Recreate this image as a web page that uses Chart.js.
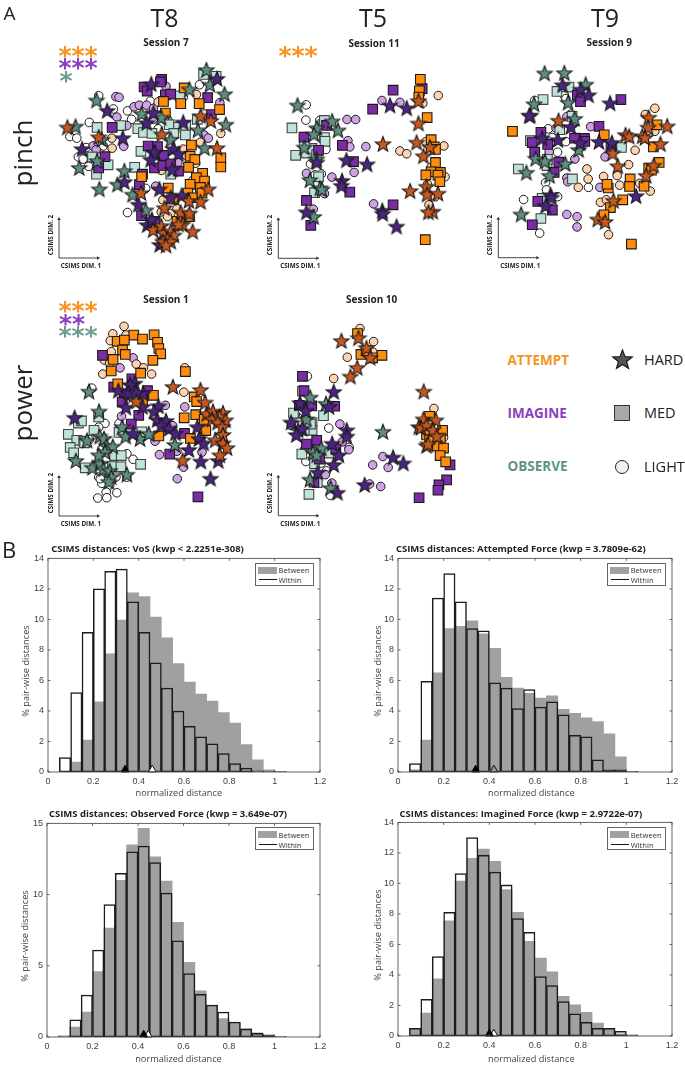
<!DOCTYPE html>
<html>
<head>
<meta charset="utf-8">
<title>CSIMS</title>
<script src="https://cdn.jsdelivr.net/npm/chart.js@4"></script>
<style>
  html, body { margin: 0; padding: 0; background: #fff; }
  #page { position: relative; width: 685px; height: 1065px; overflow: hidden; font-family: "Open Sans", sans-serif; color: #222; }
  #page canvas { position: absolute; }
  #arrows { position: absolute; left: 0; top: 0; }
  .txt { position: absolute; white-space: nowrap; transform: translate(-50%, -50%); line-height: 1; }
  .legbox { position: absolute; width: 59px; height: 23px; background: #fff; border: 1px solid #666; box-sizing: border-box; }
</style>
</head>
<body>
<div id="page"><svg id="arrows" width="685" height="1065"></svg></div>
<script>
// session 7 (T8, pinch)
const s7AttemptHard = [[190,381],[290,412],[491,403],[648,360],[615,345],[668,447],[640,578],[425,590],[578,615],[615,618],[500,638],[552,652],[580,655],[558,690],[590,713],[464,708],[490,695],[498,718],[520,712],[510,735],[530,725],[495,745],[520,745],[545,690],[505,757]];
const s7AttemptMed = [[563,255],[497,298],[552,305],[611,305],[676,324],[503,335],[586,437],[582,473],[597,483],[680,478],[680,507],[577,508],[622,527],[427,538],[602,541],[628,552],[582,562],[615,572],[575,590],[512,574],[530,609],[590,605],[620,590],[540,680],[580,665]];
const s7AttemptLight = [[602,276],[480,300],[627,338],[680,400],[332,415],[333,447],[615,428],[560,450],[490,518],[600,495],[495,612],[490,650],[520,655],[540,640],[510,665],[590,550],[570,470]];
const s7ImagineHard = [[668,226],[458,243],[317,328],[465,335],[443,367],[560,365],[367,415],[237,450],[528,450],[466,462],[545,465],[456,484],[525,515],[372,555],[484,578],[555,598],[417,627],[520,605],[445,692],[460,675],[485,755],[500,740]];
const s7ImagineMed = [[491,228],[487,236],[435,252],[445,265],[503,277],[520,275],[638,286],[333,381],[650,340],[448,440],[478,442],[497,470],[310,474],[290,510],[468,510],[495,502],[520,497],[545,520],[430,530],[420,563],[427,662],[470,680]];
const s7ImagineLight = [[345,283],[355,285],[403,315],[420,310],[443,310],[465,320],[348,348],[380,375],[465,355],[370,441],[272,440],[282,452],[677,302],[627,405],[640,415],[543,493],[505,250],[472,568],[500,355],[520,600]];
const s7ObserveHard = [[634,198],[645,245],[692,275],[283,295],[216,378],[696,372],[607,390],[628,447],[427,338],[300,420],[285,488],[228,510],[372,520],[350,563],[292,578],[398,595],[440,645],[580,260],[520,420],[490,350],[470,460]];
const s7ObserveMed = [[625,212],[665,218],[285,381],[360,375],[415,385],[433,397],[515,372],[545,380],[568,375],[567,405],[605,355],[425,457],[320,500],[405,508],[283,530],[520,530],[270,475],[550,280],[460,400],[530,400]];
const s7ObserveLight = [[290,280],[337,322],[382,328],[260,365],[198,410],[220,415],[225,475],[240,482],[258,505],[272,480],[455,297],[395,355],[560,285],[612,245],[382,652],[480,385],[510,355],[440,575],[305,440],[295,465],[250,445]];

// session 11 (T5, pinch)
const s11AttemptHard = [[519,203],[519,275],[404,341],[513,336],[556,351],[535,380],[545,478],[492,492],[547,503],[582,500],[565,558],[551,560]];
const s11AttemptMed = [[525,133],[522,170],[547,256],[560,327],[570,350],[574,358],[574,400],[560,430],[543,440],[590,432],[582,441],[588,462],[541,648],[520,190]];
const s11AttemptLight = [[583,185],[533,210],[459,363],[481,372],[601,347],[543,333],[605,446],[548,470],[573,510],[553,536],[560,415]];
const s11ImagineHard = [[427,217],[481,226],[286,393],[353,406],[190,400],[272,459],[270,475],[157,560],[402,555],[403,565],[448,606]];
const s11ImagineMed = [[437,168],[531,163],[371,229],[222,281],[149,319],[273,345],[196,361],[309,397],[297,495],[157,522],[437,536],[171,602]];
const s11ImagineLight = [[401,201],[459,207],[288,262],[316,262],[291,330],[297,350],[349,349],[311,432],[239,447],[157,435],[215,500],[179,550],[374,533]];
const s11ObserveHard = [[128,217],[240,268],[259,297],[190,290],[181,310],[150,352],[168,457],[200,483],[207,487],[180,575],[190,390]];
const s11ObserveMed = [[110,289],[215,265],[215,320],[217,332],[122,377],[157,370],[175,355],[190,375],[196,446],[183,497],[150,340]];
const s11ObserveLight = [[156,215],[155,264],[200,265],[220,358],[170,405],[205,437],[208,270],[185,440]];

// session 9 (T9, pinch)
const s9AttemptHard = [[261,266],[553,256],[551,288],[613,284],[478,312],[490,317],[532,316],[541,321],[591,341],[436,371],[453,412],[569,410],[545,443],[439,523],[388,583],[412,591]];
const s9AttemptMed = [[112,300],[580,279],[409,311],[568,350],[587,400],[553,418],[562,425],[493,453],[491,477],[422,482],[418,470],[538,476],[469,520],[429,545],[408,568],[497,662]];
const s9AttemptLight = [[573,226],[542,246],[573,300],[509,361],[454,354],[488,407],[353,421],[357,453],[407,445],[451,442],[325,480],[459,473],[524,467],[558,492],[397,528],[423,632],[416,520]];
const s9ImagineHard = [[274,152],[333,166],[358,184],[428,210],[166,250],[301,286],[208,323],[259,328],[392,334],[434,337],[331,338],[512,508],[235,505],[238,513],[219,540]];
const s9ImagineMed = [[322,184],[332,205],[463,198],[392,284],[204,303],[176,336],[226,342],[313,322],[345,323],[346,332],[431,350],[184,367],[262,399],[247,432],[194,525],[241,553],[176,600]];
const s9ImagineLight = [[288,253],[253,290],[365,285],[231,366],[314,389],[412,382],[288,450],[291,462],[395,480],[288,567],[321,574],[321,607]];
const s9ObserveHard = [[216,114],[280,113],[349,150],[182,213],[170,250],[292,208],[313,260],[326,360],[187,388],[217,397],[283,405],[157,433],[232,443],[140,567]];
const s9ObserveMed = [[211,198],[256,172],[295,158],[305,252],[265,295],[170,330],[465,352],[224,410],[131,421],[306,453],[204,580],[208,515],[225,390]];
const s9ObserveLight = [[184,201],[280,185],[285,195],[228,292],[240,320],[285,333],[258,367],[219,465],[222,488],[258,510],[148,519],[200,627],[358,480],[300,245]];

// session 1 (T8, power)
const s1AttemptHard = [[527,301],[615,311],[630,351],[410,348],[635,388],[655,380],[687,385],[652,405],[676,397],[695,408],[670,415],[685,430],[687,455],[662,472],[687,482],[700,497],[677,520],[558,537]];
const s1AttemptMed = [[402,135],[467,134],[349,155],[372,151],[430,148],[478,158],[482,178],[488,195],[366,183],[375,197],[463,216],[336,213],[330,250],[424,257],[351,291],[567,252],[595,333],[603,348],[465,328],[430,348],[600,390],[563,400],[627,405],[632,441],[583,466],[482,458]];
const s1AttemptLight = [[371,107],[335,131],[327,153],[377,135],[323,195],[308,215],[325,225],[303,260],[410,228],[433,240],[459,260],[562,318],[565,240],[375,345],[330,188]];
const s1ImagineHard = [[405,290],[390,295],[353,313],[385,320],[432,322],[410,320],[377,367],[430,365],[481,363],[467,380],[213,400],[477,407],[505,410],[490,425],[515,435],[535,450],[400,450],[605,430],[610,468],[625,482],[578,503],[616,540],[672,538],[647,595]];
const s1ImagineMed = [[302,200],[396,275],[338,302],[446,313],[372,325],[365,350],[430,330],[418,392],[394,420],[564,450],[517,516],[607,653]];
const s1ImagineLight = [[288,390],[503,360],[565,365],[400,208],[358,240],[363,395],[470,475],[526,425],[540,507],[484,518],[620,510],[561,558],[541,595],[510,435]];
const s1ObserveHard = [[259,316],[291,380],[365,430],[376,460],[422,468],[450,452],[253,473],[293,460],[307,467],[315,490],[335,492],[310,510],[533,487],[217,538],[270,560],[295,547],[305,565],[325,570],[330,590],[322,605],[380,582],[290,520]];
const s1ObserveMed = [[290,397],[225,417],[275,440],[193,453],[220,472],[242,475],[245,480],[199,495],[210,512],[341,521],[362,521],[334,556],[361,557],[424,549],[247,560],[355,447],[428,445],[235,410]];
const s1ObserveLight = [[268,305],[310,418],[290,430],[355,418],[300,500],[400,533],[380,515],[290,590],[300,610],[380,590],[325,615],[348,640],[314,638],[287,657],[316,656],[260,470],[295,595],[345,590]];

// session 10 (T5, power)
const s10AttemptHard = [[270,154],[325,145],[351,177],[363,208],[321,240],[299,268],[536,316],[535,405],[575,408],[520,430],[527,432],[545,425],[565,440],[578,460],[545,490],[550,485]];
const s10AttemptMed = [[322,130],[333,197],[371,208],[401,200],[350,185],[555,395],[597,440],[545,455],[590,465],[555,470],[580,490],[600,497],[589,521],[607,541]];
const s10AttemptLight = [[330,114],[374,156],[372,190],[289,206],[245,274],[569,370],[600,463],[560,420]];
const s10ImagineHard = [[245,317],[230,365],[136,353],[155,378],[107,415],[143,435],[124,455],[287,440],[287,460],[240,483],[262,520],[245,551],[193,575],[257,640],[345,615],[437,527],[470,546]];
const s10ImagineMed = [[144,267],[149,313],[248,363],[134,360],[174,362],[190,472],[157,484],[199,532],[252,500],[181,606],[621,551],[610,599],[585,615],[582,632],[521,656]];
const s10ImagineLight = [[121,390],[108,425],[265,420],[273,477],[294,502],[151,502],[404,524],[371,551],[421,559],[361,612],[397,620],[218,582],[239,609]];
const s10ObserveHard = [[169,335],[220,355],[157,405],[130,440],[404,445],[205,498],[178,512],[168,598],[190,520],[235,625]];
const s10ObserveMed = [[144,315],[212,393],[115,385],[175,415],[175,440],[230,513],[142,516],[183,547],[165,645],[192,608],[150,440],[170,420]];
const s10ObserveLight = [[160,267],[229,433],[155,540],[205,545],[222,570],[234,648],[295,495],[195,530],[130,400]];

// histograms, bins of 0.05 starting at 0.05
const binCenters = [0.075,0.125,0.175,0.225,0.275,0.325,0.375,0.425,0.475,0.525,0.575,0.625,0.675,0.725,0.775,0.825,0.875,0.925,0.975,1.025];
const vosWithin = [0.95,5.2,9.15,12,13.15,13.3,11.15,9.15,7.15,5.5,4,3,2.3,1.85,1.2,0.55,0.25,0.08,0.05,0.02];
const vosBetween = [0.05,0.65,2.1,4.6,7.75,9.95,11.75,11.5,10.15,8.8,7.1,5.9,5.1,4.65,3.9,3.2,1.8,0.8,0.15,0.05];
const attemptWithin = [0.55,5.95,11.4,13,11.15,9.4,9.25,5.85,5.5,4.15,5.4,4.25,4.6,3.75,2.4,2.3,0.8,0.15,0.15,0.05];
const attemptBetween = [0.15,2.1,6.5,9.4,9.55,9.9,9.05,8.1,6.2,5.5,5.15,4.85,5,4.1,3.85,3.55,3.3,2.5,1,0.05];
const observeWithin = [0.08,1.2,2.95,6.1,9.3,11.5,13,13.4,12.25,10.1,6.75,4.45,3,2.25,1.75,1.05,0.55,0.25,0.15,0.05];
const observeBetween = [0.02,0.7,1.75,4.6,7.65,11,13.5,14.65,12.65,10.95,8.05,5.25,3.25,2.2,1.3,1,0.6,0.3,0.05,0.02];
const imagineWithin = [0.5,2.4,5.2,8.1,10.65,13,11.85,10.75,9.9,7.7,6.8,3.9,3.3,2.25,1.45,0.9,0.5,0.5,0.3,0.08];
const imagineBetween = [0.5,1.5,3.75,7.55,10.15,11.65,12.25,11.45,9.6,8.1,6.2,5.1,4.2,2.6,2.05,1.55,0.85,0.5,0.15,0.05];

const page = document.getElementById('page');
const ink = '#1a1a1a';

function addText(str, x, y, css) {
    let d = document.createElement('div');
    d.className = 'txt';
    d.textContent = str;
    d.style.left = x + 'px';
    d.style.top = y + 'px';
    d.style.cssText += css;
    page.appendChild(d);
    return d;
}

function starImage(fill, R, line) {
    let c = document.createElement('canvas');
    let size = Math.ceil(R * 2 + 6);
    c.width = size; c.height = size;
    let g = c.getContext('2d');
    g.beginPath();
    for (let i = 0; i < 10; i++) {
        let r = i % 2 ? R * 0.42 : R;
        let a = -Math.PI / 2 + i * Math.PI / 5;
        g.lineTo(size / 2 + r * Math.cos(a), size / 2 + r * Math.sin(a) + R * 0.06);
    }
    g.closePath();
    g.fillStyle = fill; g.fill();
    g.strokeStyle = ink; g.lineWidth = line; g.miterLimit = 6; g.stroke();
    return c;
}

function starSet(data, fill) {
    return { data: data, pointStyle: starImage(fill, 8, 1.1), clip: false };
}
function squareSet(data, fill, edge) {
    return { data: data, pointStyle: 'rect', pointRadius: 6.8, backgroundColor: fill, borderColor: edge || ink, borderWidth: 1.1, clip: false };
}
function circleSet(data, fill, edge) {
    return { data: data, pointStyle: 'circle', pointRadius: 4.3, backgroundColor: fill, borderColor: edge || ink, borderWidth: 1, clip: false };
}

// scale bounds span the whole panel, one unit is a third of a pixel
function scatterPanel(left, top, w, h, sets) {
    let cv = document.createElement('canvas');
    cv.width = w; cv.height = h;
    cv.style.left = left + 'px'; cv.style.top = top + 'px';
    page.appendChild(cv);
    new Chart(cv.getContext('2d'), {
        type: 'scatter',
        data: { datasets: sets },
        options: {
            responsive: false, animation: false, events: [],
            plugins: { legend: { display: false }, tooltip: { enabled: false } },
            scales: {
                x: { display: false, min: 0, max: w * 3 },
                y: { display: false, min: 0, max: h * 3, reverse: true }
            }
        }
    });
}

function panelSets(ah, am, al, ih, im, il, oh, om, ol) {
    return [
        starSet(ah, '#C9581F'), starSet(ih, '#4B2482'), starSet(oh, '#5F8F82'),
        squareSet(am, '#FF8C0A'), squareSet(im, '#7A2CA6'), squareSet(om, '#BFE3DA', '#444'),
        circleSet(al, '#FFD3AD'), circleSet(il, '#CFA2E6'), circleSet(ol, '#FFFFFF')
    ];
}

scatterPanel(0, 0, 260, 270, panelSets(s7AttemptHard, s7AttemptMed, s7AttemptLight, s7ImagineHard, s7ImagineMed, s7ImagineLight, s7ObserveHard, s7ObserveMed, s7ObserveLight));
scatterPanel(250, 30, 220, 240, panelSets(s11AttemptHard, s11AttemptMed, s11AttemptLight, s11ImagineHard, s11ImagineMed, s11ImagineLight, s11ObserveHard, s11ObserveMed, s11ObserveLight));
scatterPanel(470, 30, 215, 240, panelSets(s9AttemptHard, s9AttemptMed, s9AttemptLight, s9ImagineHard, s9ImagineMed, s9ImagineLight, s9ObserveHard, s9ObserveMed, s9ObserveLight));
scatterPanel(0, 285, 260, 250, panelSets(s1AttemptHard, s1AttemptMed, s1AttemptLight, s1ImagineHard, s1ImagineMed, s1ImagineLight, s1ObserveHard, s1ObserveMed, s1ObserveLight));
scatterPanel(250, 285, 220, 250, panelSets(s10AttemptHard, s10AttemptMed, s10AttemptLight, s10ImagineHard, s10ImagineMed, s10ImagineLight, s10ObserveHard, s10ObserveMed, s10ObserveLight));

// inward ticks on all four sides, matlab style box
const boxTicks = {
    id: 'boxTicks',
    afterDraw(chart) {
        let a = chart.chartArea, g = chart.ctx, len = 2.5;
        g.save();
        g.strokeStyle = '#555'; g.lineWidth = 0.9;
        g.strokeRect(a.left, a.top, a.right - a.left, a.bottom - a.top);
        g.beginPath();
        chart.scales.x.ticks.forEach(t => {
            let px = chart.scales.x.getPixelForValue(t.value);
            g.moveTo(px, a.bottom); g.lineTo(px, a.bottom - len);
            g.moveTo(px, a.top); g.lineTo(px, a.top + len);
        });
        chart.scales.y.ticks.forEach(t => {
            let py = chart.scales.y.getPixelForValue(t.value);
            g.moveTo(a.left, py); g.lineTo(a.left + len, py);
            g.moveTo(a.right, py); g.lineTo(a.right - len, py);
        });
        g.stroke();
        g.restore();
    }
};

function toPoints(vals) {
    return vals.map((v, i) => ({ x: binCenters[i], y: v }));
}

function histogram(plotLeft, plotTop, plotW, plotH, yMax, yStep, within, between, medWithin, medBetween, medFill) {
    let cv = document.createElement('canvas');
    let padL = 34, padT = 8, padR = 13, padB = 18;
    cv.width = padL + plotW + padR; cv.height = padT + plotH + padB;
    cv.style.left = (plotLeft - padL) + 'px'; cv.style.top = (plotTop - padT) + 'px';
    page.appendChild(cv);
    let font = { family: '"Liberation Sans", sans-serif', size: 9 };
    new Chart(cv.getContext('2d'), {
        type: 'bar',
        data: {
            datasets: [
                { type: 'scatter', data: [{ x: medWithin, y: yMax * 0.0105 }], pointStyle: 'triangle', pointRadius: 4.5, backgroundColor: '#000', borderColor: '#000', borderWidth: 1, clip: false, order: 1 },
                { type: 'scatter', data: [{ x: medBetween, y: yMax * 0.0105 }], pointStyle: 'triangle', pointRadius: 4.5, backgroundColor: medFill, borderColor: '#111', borderWidth: 1, clip: false, order: 2 },
                { label: 'Within', data: toPoints(within), backgroundColor: 'rgba(0,0,0,0)', borderColor: '#1c1c1c', borderWidth: 0.85, borderSkipped: false, barPercentage: 1, categoryPercentage: 1, grouped: false, order: 3 },
                { label: 'Between', data: toPoints(between), backgroundColor: '#A0A0A0', borderWidth: 0, barPercentage: 1, categoryPercentage: 1, grouped: false, order: 4 }
            ]
        },
        options: {
            responsive: false, animation: false, events: [],
            layout: { padding: { top: padT, right: padR, left: 0, bottom: 0 } },
            plugins: { legend: { display: false }, tooltip: { enabled: false } },
            scales: {
                x: {
                    type: 'linear', min: 0, max: 1.2, offset: false,
                    grid: { display: false, drawTicks: false }, border: { display: false },
                    ticks: { stepSize: 0.2, maxRotation: 0, padding: 4, color: '#404040', font: font, callback: v => String(+v.toFixed(1)) },
                    afterFit: s => { s.height = padB; }
                },
                y: {
                    min: 0, max: yMax,
                    grid: { display: false, drawTicks: false }, border: { display: false },
                    ticks: { stepSize: yStep, padding: 4, color: '#404040', font: font },
                    afterFit: s => { s.width = padL; }
                }
            }
        },
        plugins: [boxTicks]
    });
}

histogram(47.5, 556.8, 272.5, 215, 14, 2, vosWithin, vosBetween, 0.34, 0.46, '#fff');
histogram(398.3, 557, 274, 215.3, 14, 2, attemptWithin, attemptBetween, 0.34, 0.42, '#999');
histogram(46.5, 821.7, 273.5, 215, 15, 5, observeWithin, observeBetween, 0.425, 0.445, '#fff');
histogram(398.3, 821, 274, 215.7, 14, 2, imagineWithin, imagineBetween, 0.40, 0.42, '#fff');

// histogram text
const titleCss = 'font-weight:700;font-size:9.5px;color:#222;';
addText('CSIMS distances: VoS (kwp < 2.2251e-308)', 147.5, 549.3, titleCss);
addText('CSIMS distances: Attempted Force (kwp = 3.7809e-62)', 520.8, 549.3, titleCss);
addText('CSIMS distances: Observed Force (kwp = 3.649e-07)', 168, 813.7, titleCss);
addText('CSIMS distances: Imagined Force (kwp = 2.9722e-07)', 520.8, 813.7, titleCss);

const axisCss = 'font-size:9.2px;color:#444;';
[[178.8, 793], [531.3, 793], [178.5, 1059], [531.3, 1059]].forEach(p => addText('normalized distance', p[0], p[1], axisCss));
[[26, 671], [377.5, 671], [25, 935.8], [377.5, 935]].forEach(p => addText('% pair-wise distances', p[0], p[1], axisCss + 'transform:translate(-50%,-50%) rotate(-90deg);'));

function addLegend(left, top) {
    let box = document.createElement('div');
    box.className = 'legbox';
    box.style.left = left + 'px'; box.style.top = top + 'px';
    box.innerHTML = '<div style="position:absolute;left:2.5px;top:3px;width:19px;height:7px;background:#A0A0A0"></div>' +
        '<div style="position:absolute;left:3px;top:15.5px;width:18px;height:1.2px;background:#111"></div>' +
        '<div style="position:absolute;left:23px;top:2.5px;font-size:7.6px;line-height:9px;color:#333">Between</div>' +
        '<div style="position:absolute;left:23px;top:12.5px;font-size:7.6px;line-height:9px;color:#333">Within</div>';
    page.appendChild(box);
}
addLegend(254.5, 562.7);
addLegend(606.7, 562.7);
addLegend(254.5, 827.3);
addLegend(606.7, 827);

// panel lettering
const bigCss = 'font-size:25px;color:#222;';
addText('A', 9.5, 13, 'font-size:19px;color:#222;');
addText('B', 9, 549, 'font-size:22px;color:#222;');
addText('T8', 164.5, 17, bigCss);
addText('T5', 373, 17, bigCss);
addText('T9', 605, 17, bigCss);
addText('pinch', 22, 153, 'font-size:26px;color:#222;transform:translate(-50%,-50%) rotate(-90deg);');
addText('power', 22, 403, 'font-size:26px;color:#222;transform:translate(-50%,-50%) rotate(-90deg);');

const sessionCss = 'font-weight:700;font-size:10px;color:#222;';
addText('Session 7', 166, 42, sessionCss);
addText('Session 11', 374, 43, sessionCss);
addText('Session 9', 609.3, 41.7, sessionCss);
addText('Session 1', 166, 299.3, sessionCss);
addText('Session 10', 371.7, 299.3, sessionCss);

// significance stars
function addStars(str, x, y, color) {
    addText(str, x, y, 'font-family:"DejaVu Sans";font-weight:700;font-size:25px;letter-spacing:0;color:' + color + ';');
}
const orangeStar = '#F7931E', purpleStar = '#8A3FBF', tealStar = '#6E9E90';
addStars('***', 78, 54.7, orangeStar);
addStars('***', 78, 67, purpleStar);
addStars('*', 66, 79.7, tealStar);
addStars('***', 298, 54.7, orangeStar);
addStars('***', 78, 310.3, orangeStar);
addStars('**', 72, 322.7, purpleStar);
addStars('***', 78, 335.3, tealStar);

// csims direction arrows
const arrowOrigins = [[59, 258], [278.3, 258.3], [498.3, 257.7], [59, 516], [278.3, 515.7]];
const svg = document.getElementById('arrows');
arrowOrigins.forEach(o => {
    let x = o[0], y = o[1];
    svg.innerHTML += `<path d="M${x} ${y - 40}V${y}H${x + 40}" fill="none" stroke="#444" stroke-width="1"/>` +
        `<path d="M${x - 1.8} ${y - 38}L${x} ${y - 41}L${x + 1.8} ${y - 38}Z" fill="#333"/>` +
        `<path d="M${x + 38} ${y - 1.8}L${x + 41} ${y}L${x + 38} ${y + 1.8}Z" fill="#333"/>`;
    addText('CSIMS DIM. 1', x + 22, y + 8, 'font-weight:700;font-size:6.3px;color:#222;');
    addText('CSIMS DIM. 2', x - 8.5, y - 23, 'font-weight:700;font-size:6.3px;color:#222;transform:translate(-50%,-50%) rotate(-90deg);');
});

// condition and force key
const keyCss = 'font-weight:700;font-size:13.5px;transform:translateY(-50%);';
addText('ATTEMPT', 507.5, 360.5, keyCss + 'color:#F7931E;');
addText('IMAGINE', 507.5, 413.5, keyCss + 'color:#8A3FBF;');
addText('OBSERVE', 507.5, 466.5, keyCss + 'color:#5F9484;');
const forceCss = 'font-size:14.5px;color:#222;transform:translateY(-50%);';
addText('HARD', 644, 359.5, forceCss);
addText('MED', 644, 413, forceCss);
addText('LIGHT', 644, 466.5, forceCss);
let keyStar = starImage('#555', 10.2, 1.2);
keyStar.style.left = (622 - keyStar.width / 2) + 'px';
keyStar.style.top = (359 - keyStar.height / 2) + 'px';
page.appendChild(keyStar);
let keySquare = document.createElement('div');
keySquare.style.cssText = 'position:absolute;left:614px;top:404.5px;width:16px;height:16px;box-sizing:border-box;background:#ABA7A7;border:1.5px solid #333;';
page.appendChild(keySquare);
let keyCircle = document.createElement('div');
keyCircle.style.cssText = 'position:absolute;left:615px;top:459.5px;width:14px;height:14px;box-sizing:border-box;background:#F3F1EF;border:1.3px solid #222;border-radius:50%;';
page.appendChild(keyCircle);
</script>
</body>
</html>
